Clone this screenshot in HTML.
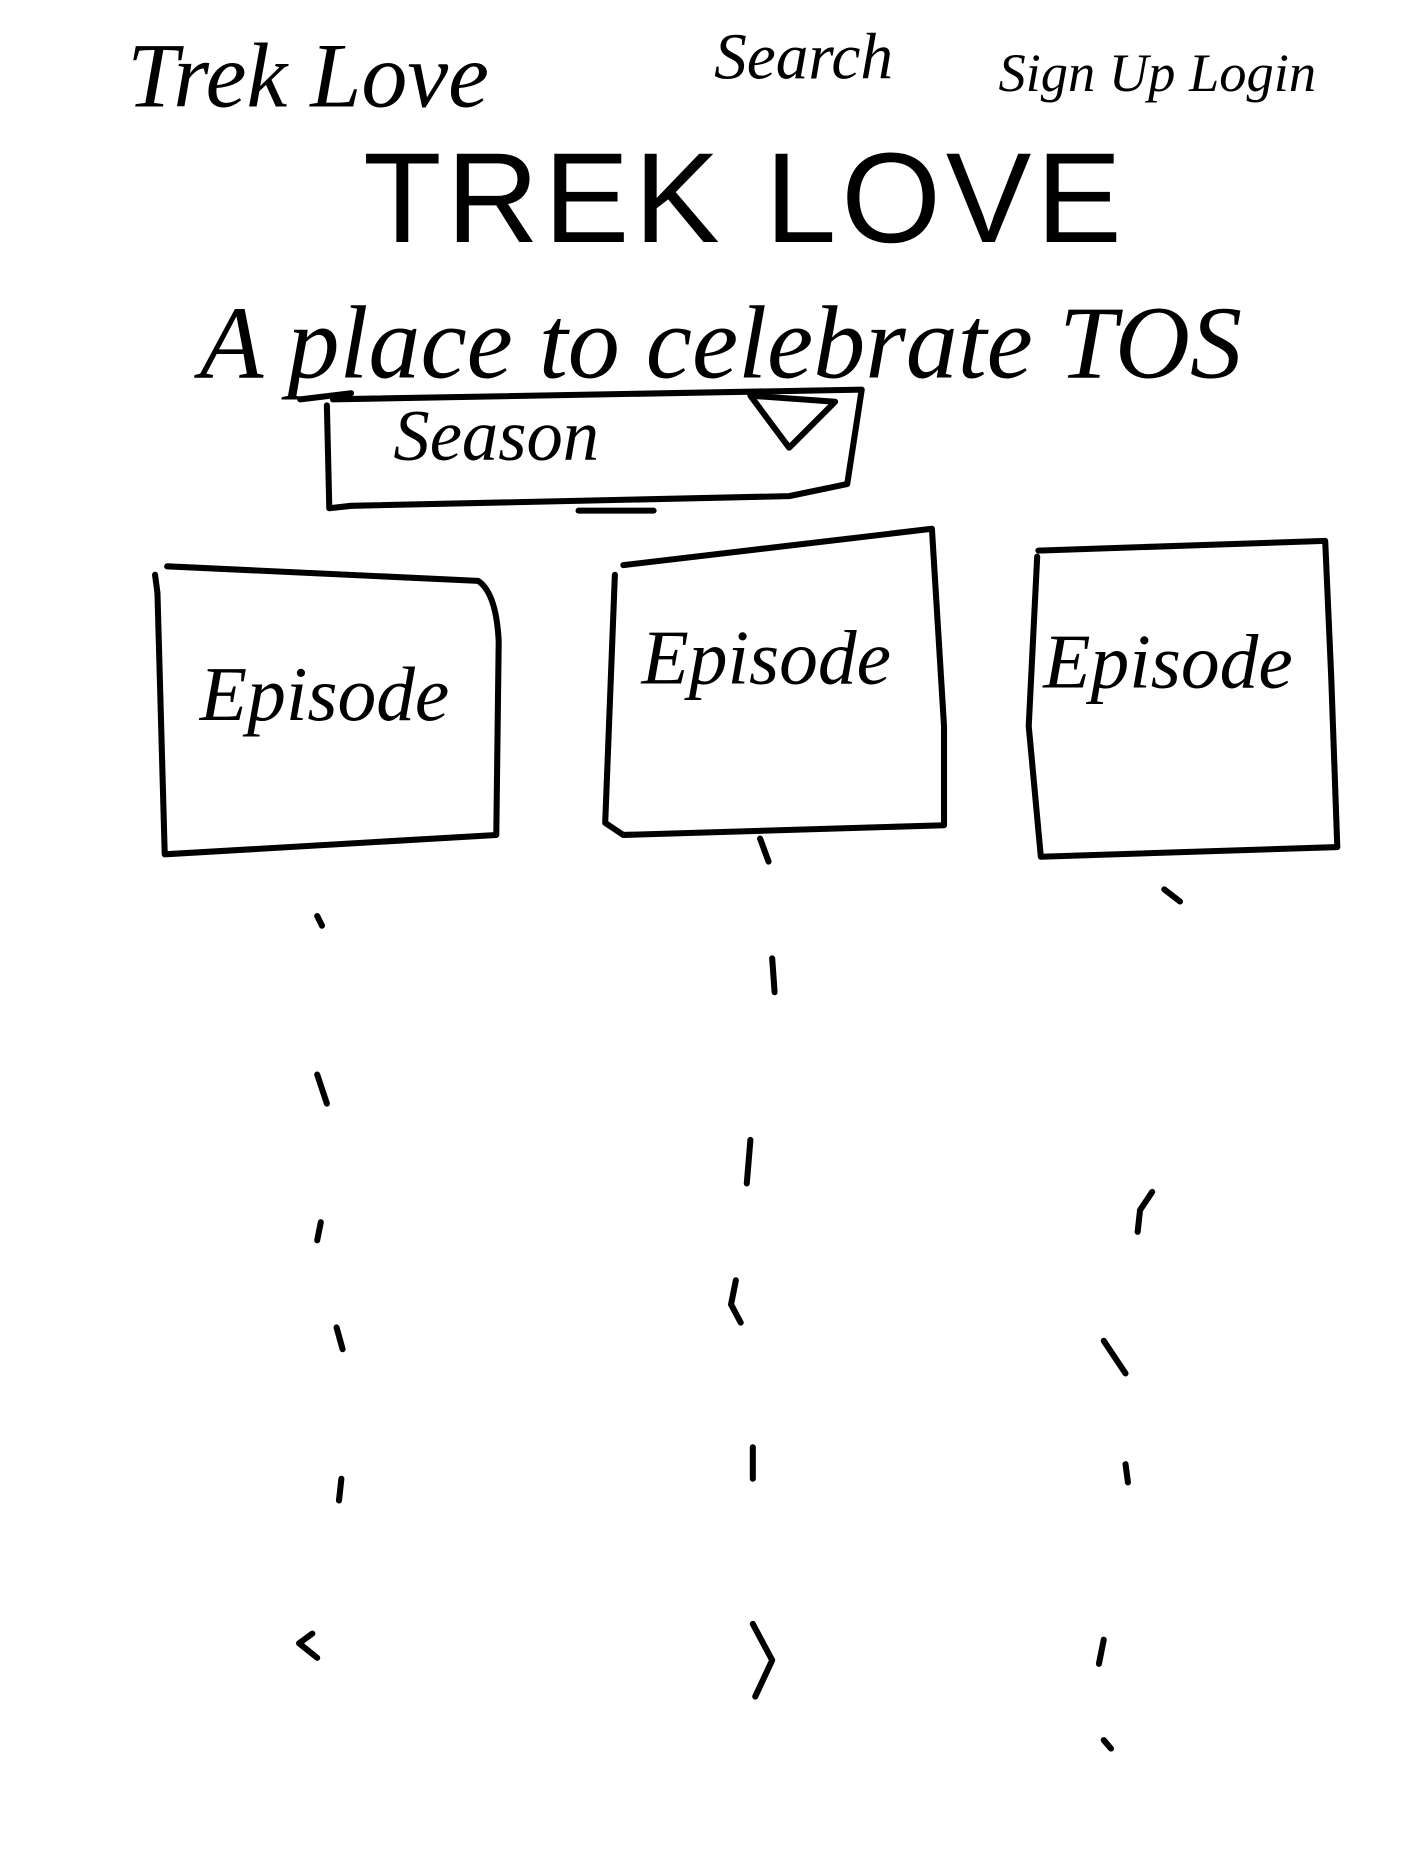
<!DOCTYPE html>
<html><head><meta charset="utf-8"><style>
html,body{margin:0;padding:0;background:#fff;}
svg{display:block;}
text{font-family:"Liberation Serif",serif;font-style:italic;fill:#000;}
text.sans{font-family:"Liberation Sans",sans-serif;font-style:normal;}
</style></head><body>
<svg width="1404" height="1872" viewBox="0 0 1160 1547" xmlns="http://www.w3.org/2000/svg">
<g fill="none" stroke="#000" stroke-width="5" stroke-linecap="round" stroke-linejoin="round">
<path d="M275 330 L712 322 L700 400 L652 410 L290 418 L272 420 L270 335"/>
<path d="M248 330 L290 325"/>
<path d="M620 327 L690 332 L652 370 Z"/>
<path d="M478 422 L540 422"/>
<path d="M138 468 L395 480 Q410 490 412 530 L410 690 L136 706 L130 490 L128 475"/>
<path d="M515 467 L770 437 L780 600 L780 682 L515 690 L500 680 L508 475"/>
<path d="M858 455 L1095 447 L1100 560 L1105 700 L860 708 L850 600 L857 460"/>
<path d="M262 757 L266 765"/><path d="M262 888 L270 912"/><path d="M265 1010 L262 1025"/>
<path d="M278 1097 L283 1115"/><path d="M282 1222 L280 1240"/><path d="M258 1350 L247 1358 L262 1370"/>
<path d="M628 693 L635 712"/><path d="M638 792 L640 820"/><path d="M620 942 L617 978"/>
<path d="M608 1058 L604 1078 L612 1093"/><path d="M622 1196 L622 1222"/><path d="M622 1342 L638 1372 L624 1402"/>
<path d="M962 735 L975 745"/><path d="M952 985 L942 1000 L940 1018"/><path d="M912 1108 L930 1135"/>
<path d="M930 1210 L932 1225"/><path d="M912 1355 L908 1375"/><path d="M912 1438 L918 1445"/>
</g>
<text x="105" y="88" font-size="76">Trek Love</text>
<text x="590" y="65" font-size="54">Search</text>
<text x="825" y="75" font-size="45">Sign Up Login</text>
<text class="sans" x="300" y="200" font-size="106" letter-spacing="4">TREK LOVE</text>
<text x="165" y="312" font-size="86">A place to celebrate TOS</text>
<text x="325" y="380" font-size="60">Season</text>
<text x="165" y="595" font-size="64">Episode</text>
<text x="530" y="565" font-size="64">Episode</text>
<text x="862" y="568" font-size="64">Episode</text>
</svg>
</body></html>
